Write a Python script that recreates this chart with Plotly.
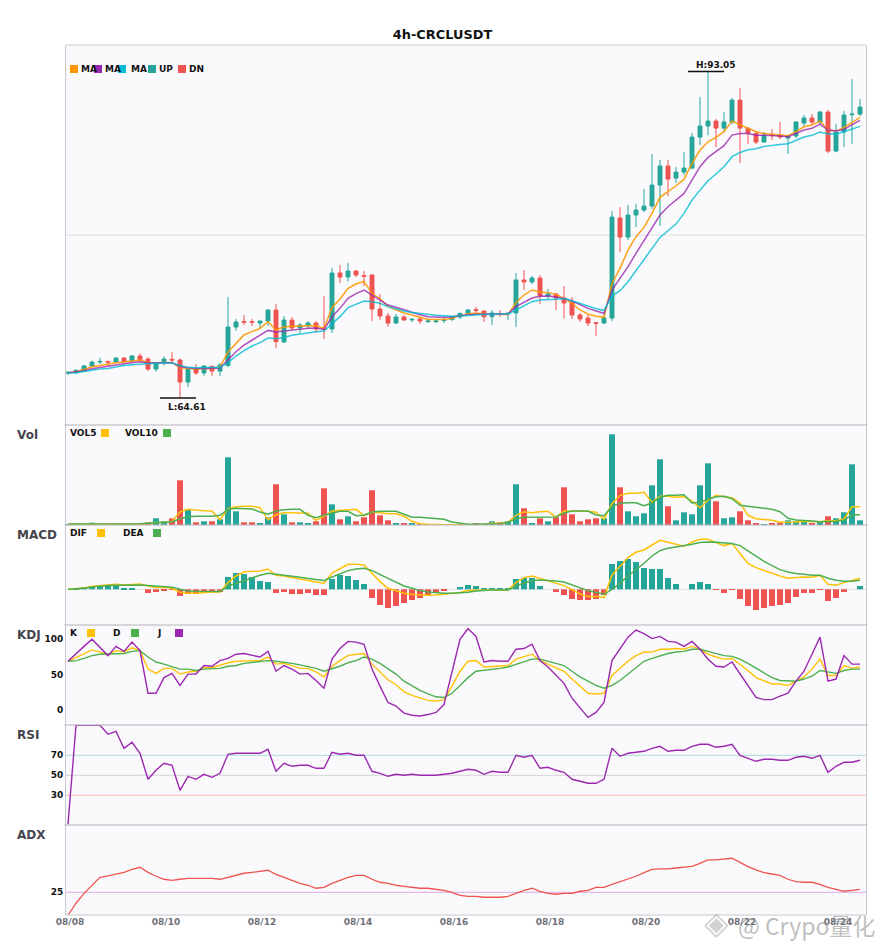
import plotly.graph_objects as go
from plotly.subplots import make_subplots

TITLE = "4h-CRCLUSDT"
tick_index = [0, 12, 24, 36, 48, 60, 72, 84, 96]
tick_labels = ["08/08", "08/10", "08/12", "08/14", "08/16", "08/18", "08/20", "08/22", "08/24"]

opens = [66.79,66.81,66.99,67.40,67.74,67.80,67.74,68.09,67.83,68.27,68.00,67.13,67.66,67.98,67.92,66.00,67.13,66.79,67.37,66.96,67.45,70.79,71.26,71.26,71.14,71.32,72.27,69.49,71.40,70.71,70.91,71.14,70.71,70.62,
75.50,75.15,75.67,75.27,75.33,72.36,71.75,71.14,71.67,71.41,71.49,71.26,71.26,71.35,71.46,71.67,71.99,72.31,72.19,71.70,71.96,71.93,72.02,74.89,74.72,75.06,73.50,73.67,73.32,72.97,71.84,71.58,71.17,71.14,
71.57,80.29,78.63,80.55,80.98,81.33,83.16,84.82,83.77,84.29,84.64,87.34,88.30,88.73,88.12,88.65,90.56,88.12,87.66,86.90,87.54,87.51,87.25,87.43,88.56,89.00,88.65,89.52,86.12,87.78,89.29,89.34]
closes = [66.84,67.02,67.40,67.74,67.80,67.74,68.09,67.80,68.27,67.92,67.13,67.57,68.00,67.92,66.00,67.13,66.79,67.40,66.96,67.48,70.79,71.23,71.20,71.20,71.32,72.27,69.52,71.40,70.71,70.97,71.14,70.62,70.62,75.50,
75.15,75.67,75.33,75.21,72.36,71.75,71.14,71.67,71.41,71.46,71.32,71.32,71.32,71.41,71.67,71.99,72.28,72.25,71.70,72.02,71.90,71.99,74.89,74.72,75.06,73.50,73.67,73.32,72.89,71.84,71.49,71.14,71.11,71.58,
80.37,78.63,80.55,80.98,81.33,83.16,84.82,83.68,84.29,84.64,87.34,88.30,88.73,88.12,88.65,90.56,88.12,87.66,86.90,87.51,87.49,87.34,87.43,88.65,89.00,88.65,89.52,86.12,87.78,89.26,89.34,89.95]
highs = [66.96,67.13,67.48,67.86,68.12,67.80,68.15,68.18,68.35,68.50,68.15,67.74,68.24,68.61,68.06,67.28,67.57,67.42,67.42,67.66,73.41,71.49,71.84,71.49,71.32,72.36,72.80,71.75,71.66,71.14,71.32,71.32,73.49,75.93,
76.20,76.37,75.76,75.67,75.33,73.67,72.02,71.93,71.84,71.58,71.67,71.41,71.41,71.67,71.75,72.02,72.36,72.54,72.19,72.28,72.28,72.02,75.50,75.76,75.24,75.33,74.11,73.76,74.37,73.41,72.02,71.84,71.23,71.93,
80.90,81.24,81.42,81.51,82.81,85.86,85.34,85.34,84.73,86.04,87.69,90.83,93.05,88.91,89.52,90.74,91.61,88.12,87.86,87.78,88.04,88.65,87.51,88.73,89.26,89.34,89.61,89.69,88.47,89.61,92.39,90.65]
lows = [66.61,66.70,66.96,67.34,67.57,67.40,67.71,67.71,67.74,67.77,66.96,66.90,67.45,67.63,64.61,65.57,66.61,66.55,66.52,66.52,67.28,70.47,70.97,70.88,70.68,70.88,68.96,69.40,70.53,70.24,70.62,70.27,69.75,70.27,
74.63,74.75,75.15,74.37,71.32,71.41,70.80,71.06,71.32,71.23,71.06,71.14,71.14,71.14,71.32,71.49,71.84,72.02,71.23,70.97,71.67,71.41,70.80,74.02,74.54,72.80,73.23,72.28,71.52,71.49,71.23,70.88,70.01,71.06,
71.31,77.32,78.37,79.50,80.81,81.07,79.59,82.20,83.34,84.03,84.55,86.64,87.51,86.47,87.78,88.47,85.08,86.73,86.73,86.90,87.08,87.17,85.86,87.25,88.30,88.47,88.39,85.95,86.03,86.47,86.73,89.17]

ma_fast = [66.81,66.90,67.10,67.34,67.45,67.57,67.69,67.74,67.83,67.92,67.69,67.66,67.71,67.71,67.25,67.19,67.13,67.16,67.19,67.31,68.61,69.37,70.10,70.39,70.68,71.26,70.53,70.82,70.82,70.88,70.91,70.91,70.68,72.48,
73.23,74.17,74.54,74.77,73.73,73.26,72.57,72.28,72.02,71.84,71.64,71.46,71.46,71.46,71.55,71.78,71.96,71.99,71.96,71.87,71.87,71.87,72.94,73.58,74.02,73.85,73.79,73.64,73.29,72.86,72.28,71.93,71.73,71.64,
74.59,75.90,77.50,78.66,79.47,80.69,82.09,82.58,83.10,83.65,85.05,86.21,86.93,87.31,87.81,88.73,88.42,88.18,87.81,87.66,87.57,87.51,87.46,87.81,88.24,88.39,88.73,87.95,87.86,88.18,88.59,89.05]
ma_mid = [66.81,66.87,66.99,67.16,67.28,67.40,67.51,67.60,67.69,67.77,67.66,67.66,67.71,67.69,67.34,67.25,67.19,67.19,67.19,67.22,67.92,68.64,69.22,69.66,70.10,70.50,70.36,70.44,70.53,70.62,70.68,70.71,70.59,71.69,
72.42,73.29,73.70,74.02,73.58,73.15,72.71,72.51,72.28,72.05,71.87,71.70,71.64,71.64,71.70,71.81,71.87,71.90,71.93,71.93,71.96,71.96,72.57,72.97,73.32,73.47,73.50,73.41,73.29,73.06,72.71,72.42,72.19,71.99,
74.01,75.03,76.05,77.21,78.31,79.53,80.55,81.27,81.85,82.43,83.59,84.76,85.57,86.12,86.59,87.51,87.66,87.66,87.49,87.49,87.49,87.43,87.37,87.66,87.95,88.10,88.47,87.95,87.86,88.01,88.39,88.79]
ma_slow = [66.79,66.81,66.93,67.05,67.13,67.19,67.34,67.45,67.51,67.57,67.63,67.63,67.66,67.66,67.45,67.28,67.25,67.25,67.28,67.28,67.69,68.27,68.73,69.14,69.43,69.83,69.78,69.89,70.07,70.18,70.30,70.39,70.44,71.11,
71.70,72.48,72.77,73.06,73.00,72.86,72.57,72.36,72.19,72.05,71.96,71.87,71.81,71.78,71.73,71.75,71.81,71.87,71.90,71.93,71.93,71.93,72.28,72.63,73.00,73.15,73.18,73.21,73.26,73.09,72.83,72.63,72.39,72.25,
73.49,73.96,74.74,75.70,76.63,77.64,78.60,79.18,79.76,80.69,81.85,82.72,83.54,84.12,84.76,85.63,86.00,86.24,86.32,86.53,86.64,86.70,86.76,87.08,87.34,87.49,87.78,87.60,87.60,87.81,88.01,88.27]

volume = [1,0.8,1,2.3,1,0.8,0.8,0.8,1,1,2.7,6.7,3.7,6.7,44.7,15.7,2.7,3.7,3.7,5.7,67.7,13.7,2.7,2.7,1.7,7.7,40.7,10.7,2.7,2.7,1.7,3.7,36.7,20.7,5.7,8.7,3.7,7.7,34.7,9.7,4.7,1.7,1.7,1.7,1,1,0.4,0.3,0.3,0.3,0.5,1.3,0.7,3.7,2.7,3.7,40.7,16.7,1.7,6.7,3.7,7.7,37.7,10.7,3.7,5.7,6.7,6.7,90.7,37.7,13.7,8.7,11.7,39.7,65.7,18.7,4.7,12.7,10.7,39.7,61.7,23.7,6.7,7.7,13.7,4.7,1.7,0.7,1.7,2.3,4.7,3.7,3.7,1.7,3.7,8.7,6.7,12.7,60.7,4.7]
vol5 = [0.9,0.8,0.9,1.2,1.2,1.1,1.2,1.1,1,0.9,1.3,2.4,2.5,3.6,13,15.7,14.7,14.3,14,5.3,16.3,18.3,18.7,18.7,17.3,5.3,10.3,12.3,12.3,12.3,11.7,4.7,8.7,14,14.7,15.7,15.7,9.3,13,12.3,11.3,11.3,8.7,3.7,1.3,0.7,0.3,0.3,0.3,0.3,0.4,0.7,0.7,1.7,1.7,2.7,9.7,13.3,12.3,13.3,13.7,8,14,13.7,13.7,13.7,12.7,6,21.3,29.7,31.7,31.7,32.7,22.7,28.7,28.7,27.7,28.3,24,17.3,24.7,29.7,28.3,27.3,22,9.7,6.3,5.7,4.7,2.7,2.7,3,3.7,3.3,3.3,4.3,4.3,6,18.3,18.3]
vol10 = [0.9,0.9,1,1.1,1.1,1.1,1.2,1.2,1.2,1.2,1.7,2,2.4,3.3,6.3,8.3,8.7,8.7,8.7,9.7,15.7,16.7,16.7,16,13,10.7,14,15.3,15.7,15.7,9.7,7.3,9.7,12,13.7,13.7,9.3,9.7,13,13.7,13.7,13.7,10.7,7.7,7.7,7,6.3,5.7,3,1.7,0.7,0.7,0.7,1.3,1.3,2.7,6.3,7.7,7.7,7.7,8.3,8,12,14,14,14,10,9.3,18.7,21.7,22.3,22.3,19.3,22,27.7,29.7,29.7,30.3,22,22.7,25.7,28.3,28.7,26.3,19.7,18.7,17.7,16.3,15.7,13.3,6.7,5,4.7,4,3.3,3.3,3.7,4.7,10.3,10.3]

macd_hist = [0,0.3,2.3,3.3,3.3,3.3,3.3,1.3,1.3,0,-3.7,-2.7,-1.7,-0.7,-6.7,-4.7,-4.7,-2.7,-2.7,-2.7,12.3,16.3,15.3,12.3,8.3,7.3,-3.7,-2.7,-4.7,-4.7,-3.7,-5.7,-5.7,10.3,14.3,13.3,9.3,5.3,-8.7,-15.7,-18.7,-16.7,-13.7,-10.7,-8.7,-5.7,-3.7,-1.7,0,2.3,4.3,3.3,1.3,1.3,1.3,1.3,10.3,11.3,11.3,3.3,0,-2.7,-5.7,-9.7,-10.7,-10.7,-9.7,-5.7,25.3,28.3,30.3,27.3,21.3,20.3,20.3,11.3,5.3,0,5.3,7.3,5.3,-0.7,-3.7,-0.7,-9.7,-16.7,-20.7,-18.7,-16.7,-15.7,-13.7,-7.7,-3.7,-3.7,-0.7,-11.7,-8.7,-2.7,0,3.3]
dif = [0,0.7,1.3,3,3.7,4.3,5,4.3,5,5.3,3.3,1.7,2,1,-3,-4,-4,-3.3,-2.7,-2.7,6.7,13.3,17.3,18,18.3,20.3,14,13.3,12,10,8.7,7.3,6,16.3,21,25,25,24.3,16,7.7,1,-1.7,-4,-5,-5.7,-6,-5.7,-4.7,-4,-3.3,-1.3,-0.7,-0.7,-0.7,-0.7,-0.7,6.7,11.7,13.3,11,8.3,5.7,3.7,-0.3,-4.7,-7.3,-7.3,-8.3,14.3,22.7,31.7,37,39.3,44.3,49,47,44.7,43,47.3,50,50,47,43.7,45.7,36,26,21.7,18.7,16,13.3,11,11.7,12.3,12,14,5,4,6.7,8.7,11]
dea = [0,0.5,1,2.3,3.3,3.7,4,4.3,4.3,4.3,3.7,3,3,2,0,-1.7,-2,-2.3,-2.3,-2.3,3.3,6,9.3,12,14,16,15,14.3,13.7,12,10.7,9.7,8.7,12.3,15.3,18.7,20.3,21,18.7,15,11,7,3.3,1,-1.3,-2.7,-3.7,-4,-4,-3.7,-3,-1.7,-1,-0.7,-0.7,-0.7,3.3,6,8.7,9.3,9,8.3,7.3,4.3,1,-1.3,-3.3,-5,0,6,13.3,19.3,26,33.3,38.7,41,42.3,43,45,46.7,47.3,47,46.3,45.7,43.7,38.3,32.7,28,23.7,19.7,17.3,15.7,15,14,14,11,9,8,8,9]

kdj_k = [69,74,80,85,82,78,84,82,88,84,58,52,59,59,51,54,55,60,60,64,67,69,70,70,70,75,65,66,63,59,59,54,47,62,70,77,79,80,65,54,43,36,26,21,17,14,13,15,34,55,69,70,61,62,63,63,72,75,79,70,65,61,55,44,34,24,23,24,49,59,69,77,82,82,86,86,87,86,90,86,79,75,72,73,65,56,46,41,37,37,35,41,47,58,72,49,49,63,59,61]
kdj_d = [69,70,73,77,79,79,80,80,83,84,75,68,65,62,58,58,56,58,58,59,62,63,66,67,69,70,69,68,66,64,62,59,55,58,62,67,70,75,72,66,58,51,41,34,28,23,19,18,24,35,46,55,56,58,59,61,65,68,72,72,69,66,63,55,47,41,35,31,35,42,51,61,69,73,77,80,82,83,86,86,83,80,77,76,72,66,59,52,46,42,41,41,44,48,56,54,52,56,58,58]
kdj_j = [69,80,90,100,89,77,90,83,96,84,24,24,46,52,35,51,51,63,62,70,73,79,80,77,75,83,55,63,58,51,52,42,31,72,87,97,96,93,58,34,11,6,-4,-7,-8,-6,-3,8,54,100,115,104,68,70,69,69,86,87,93,70,61,49,38,17,3,-10,-3,11,70,87,103,113,108,101,104,97,96,90,97,86,72,62,61,68,51,35,18,15,15,20,24,41,55,79,103,41,44,77,65,65]

rsi = [1,100,100,100,100,91,94,77,83,72,46,55,62,60,35,49,46,51,48,52,71,72,72,72,72,76,54,62,59,60,60,57,57,73,71,72,70,70,54,52,49,51,50,51,50,50,50,51,52,54,56,55,51,54,53,53,70,68,70,57,58,55,53,46,44,42,42,46,77,69,72,73,74,77,79,74,75,75,79,81,81,78,79,81,70,67,64,66,66,65,65,68,69,67,70,53,59,63,63,65]

adx = [9.7,17.7,24.3,29.9,35,35.9,37,38.3,40.3,41.7,38.3,35.7,33.7,33,33.7,34.3,34.3,34.3,34.3,33.7,35,36.3,37.7,38.3,39,39.7,37,35,33,31,29.7,27.7,28.3,31,33,35,36.3,36.3,33.7,31.7,31,29.7,29,28.3,27.7,27.7,27,26.3,25,23,22.3,22.3,21.7,21.7,21.7,22.3,24.3,26.3,27.7,25.7,24.3,23.7,24.3,24.3,25.7,26.3,28.3,28.3,30.3,32.1,34.3,35.7,38.1,40.3,40.6,40.6,41.2,41.9,42.3,44.3,46.6,46.6,47.2,47.7,45,42.1,39.9,38.1,37.2,36.3,33.7,32.1,31.7,31.7,30.3,28.3,27,25.7,26.3,27]

UP, DN = "#26a69a", "#ef5350"
ORANGE, PURPLE, CYAN, GREEN, YELLOW = "#ff9800", "#9c27b0", "#00bcd4", "#4caf50", "#ffc107"
FONT = "DejaVu Sans"
W, H = 885, 950
L, R, T, B = 66, 19, 45, 35
idx = list(range(100))

fig = make_subplots(rows=6, cols=1, shared_xaxes=True, vertical_spacing=0,
                    row_heights=[380, 100, 100, 100, 100, 90])


def line(arr, color, row, width=1.5, opacity=1):
    fig.add_trace(go.Scatter(x=idx, y=arr, mode="lines", line=dict(color=color, width=width), opacity=opacity), row=row, col=1)


fig.add_trace(go.Candlestick(x=idx, open=opens, high=highs, low=lows, close=closes, whiskerwidth=0,
                             increasing=dict(line=dict(color=UP, width=1), fillcolor=UP),
                             decreasing=dict(line=dict(color=DN, width=1), fillcolor=DN)), row=1, col=1)
line(ma_fast, ORANGE, 1, opacity=0.9)
line(ma_mid, PURPLE, 1, opacity=0.8)
line(ma_slow, CYAN, 1, opacity=0.8)

hi = max(highs); lo = min(lows); hi_i = highs.index(hi); lo_i = lows.index(lo)
for i0, val in [(hi_i, hi), (lo_i, lo)]:
    fig.add_trace(go.Scatter(x=[i0 - 2.5, i0 + 2], y=[val, val], mode="lines", line=dict(color="#111", width=1.4)), row=1, col=1)

vol_colors = [UP if c >= o else DN for o, c in zip(opens, closes)]
fig.add_trace(go.Bar(x=idx, y=volume, marker=dict(color=vol_colors, line=dict(width=0)), width=0.75), row=2, col=1)
line(vol5, YELLOW, 2)
line(vol10, GREEN, 2)

hist_colors = [UP if v >= 0 else DN for v in macd_hist]
fig.add_trace(go.Bar(x=idx, y=macd_hist, marker=dict(color=hist_colors, line=dict(width=0)), width=0.75), row=3, col=1)
line(dif, YELLOW, 3)
line(dea, GREEN, 3)

line(kdj_k, YELLOW, 4, 1.4)
line(kdj_d, GREEN, 4, 1.4)
line(kdj_j, PURPLE, 4, 1.4)
line(rsi, PURPLE, 5, 1.4)
line(adx, DN, 6, 1.3)

LEVELS = [(1, 78.8, "#e0e0e4"), (3, 0, "#dcdcdc"), (4, 100, "#a8dcd8"), (4, 50, "#d4d4d8"), (4, 0, "#ffb8b8"),
          (5, 70, "#a8dcd8"), (5, 50, "#d4d4d8"), (5, 30, "#ffb8b8"), (6, 25, "#e0a8e8")]
for r, v, c in LEVELS:
    fig.add_hline(y=v, line=dict(color=c, width=1), layer="below", row=r, col=1)

fig.update_layout(
    width=W, height=H, template=None, showlegend=False, paper_bgcolor="white", plot_bgcolor="#fafafc",
    margin=dict(l=L, r=R, t=T, b=B, pad=0), bargap=0.25, boxgap=0.3, barmode="overlay",
    font=dict(family=FONT, size=10, color="#000"), hovermode=False,
    title=dict(text="<b>" + TITLE + "</b>", x=0.5, xanchor="center", y=1 - 34.5 / H, yanchor="middle",
               font=dict(family=FONT, size=12.9, color="#111")),
)

fig.update_xaxes(range=[-0.25, 99.75], showgrid=False, zeroline=False, showline=False,
                 ticks="", showticklabels=False, rangeslider=dict(visible=False))
fig.update_yaxes(showgrid=False, zeroline=False, showline=True, mirror=True, linecolor="#c8c8d0", linewidth=1,
                 ticks="", showticklabels=False)
fig.update_xaxes(row=6, col=1, showticklabels=True, tickmode="array",
                 tickvals=[t + 0.25 for t in tick_index], ticktext=tick_labels,
                 tickfont=dict(family=FONT, size=9, color="#707078", weight=700))

TICK = dict(family=FONT, size=9, color="#111", weight=700)
fig.update_yaxes(row=1, col=1, range=[62.26, 95.36])
fig.update_yaxes(row=2, col=1, range=[0, 100])
fig.update_yaxes(row=3, col=1, range=[-35.7, 64.3])
fig.update_yaxes(row=4, col=1, range=[-20.7, 120.1], showticklabels=True, tickmode="array", tickvals=[0, 50, 100], tickfont=TICK)
fig.update_yaxes(row=5, col=1, range=[0.3, 100.3], showticklabels=True, tickmode="array", tickvals=[30, 50, 70], tickfont=TICK)
fig.update_yaxes(row=6, col=1, range=[9.87, 69.87], showticklabels=True, tickmode="array", tickvals=[25], tickfont=TICK)


def px(x):
    return (x - L) / (W - L - R)


def py(y):
    return 1 - (y - T) / (H - T - B)


def text(x, y, s, size=9, color="#111", family=FONT):
    fig.add_annotation(xref="paper", yref="paper", x=px(x), y=py(y), text=s, showarrow=False, xanchor="left",
                       yanchor="middle", font=dict(family=family, size=size, color=color),
                       borderpad=0, borderwidth=0)


def square(x, y, color):
    fig.add_shape(type="rect", xref="paper", yref="paper", x0=px(x), x1=px(x + 8), y0=py(y), y1=py(y + 8),
                  fillcolor=color, line=dict(width=0))


# panel borders
for y, c, x0, x1 in [(45, "#c8c8d0", 66, 866), (915, "#c8c8d0", 66, 866), (425, "#b0b0b8", 64.5, 867.5),
                     (525, "#b0b0b8", 64.5, 867.5), (625, "#b0b0b8", 64.5, 867.5), (725, "#b0b0b8", 64.5, 867.5),
                     (825, "#b0b0b8", 64.5, 867.5)]:
    fig.add_shape(type="line", xref="paper", yref="paper", x0=px(x0), x1=px(x1), y0=py(y), y1=py(y),
                  line=dict(color=c, width=1))

main_y = 69
for x, s in [(81, "MA"), (105, "MA"), (131, "MA"), (159, "UP"), (189, "DN")]:
    text(x, main_y, "<b>" + s + "</b>")
for x, c in [(70, ORANGE), (94, PURPLE), (118, CYAN), (148, UP), (178, DN)]:
    square(x, main_y - 4, c)

for y, items, squares in [
    (433, [(70, "VOL5"), (125, "VOL10")], [(101, YELLOW), (163, GREEN)]),
    (533, [(70, "DIF"), (123, "DEA")], [(97, YELLOW), (153, GREEN)]),
    (633, [(70, "K"), (113, "D"), (157, "J")], [(87, YELLOW), (131, GREEN), (175, PURPLE)]),
]:
    for x, s in items:
        text(x, y, "<b>" + s + "</b>")
    for x, c in squares:
        square(x, y - 4, c)

for y, s in [(435, "Vol"), (535, "MACD"), (635, "KDJ"), (735, "RSI"), (835, "ADX")]:
    text(17, y, "<b>" + s + "</b>", size=12, color="#45454d")

fig.add_annotation(x=hi_i, y=hi, xref="x", yref="y", text="<b>H:%.2f</b>" % hi, showarrow=False, xshift=8, yshift=7,
                   font=dict(family=FONT, size=9, color="#111"))
fig.add_annotation(x=lo_i, y=lo, xref="x", yref="y", text="<b>L:%.2f</b>" % lo, showarrow=False, xshift=7, yshift=-9,
                   font=dict(family=FONT, size=9, color="#111"))

# watermark
text(704, 923, "◈", size=32, color="rgba(150,150,150,0.45)")
text(738, 925, "@ Crypo量化", size=23, color="rgba(125,125,125,0.5)", family="Noto Sans CJK SC")

fig.write_html("out.html", config=dict(displayModeBar=False),
               post_script="document.body.style.margin='0';")
